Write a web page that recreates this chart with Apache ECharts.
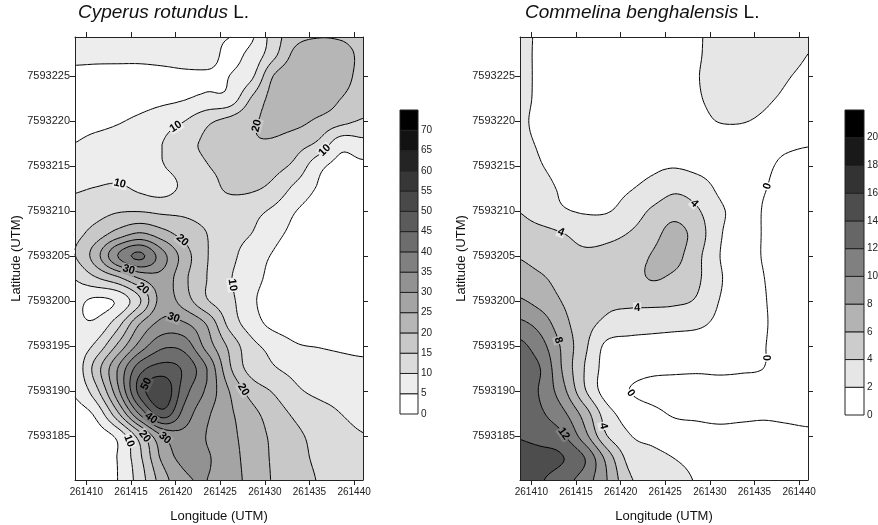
<!DOCTYPE html>
<html>
<head>
<meta charset="utf-8">
<script src="https://cdn.jsdelivr.net/npm/echarts@6/dist/echarts.min.js"></script>
<style>
  html, body { margin: 0; padding: 0; background: #fff; }
  #chart { width: 878px; height: 525px; }
</style>
</head>
<body>
<div id="chart"></div>
<script>
// -----------------------------
// DATA (kriged densities, 2.5 m node spacing)
// -----------------------------
const eastings = [261408.5, 261411, 261413.5, 261416, 261418.5, 261421, 261423.5,
  261426, 261428.5, 261431, 261433.5, 261436, 261438.5, 261441];
const northings = [7593230, 7593227.5, 7593225, 7593222.5, 7593220, 7593217.5, 7593215,
  7593212.5, 7593210, 7593207.5, 7593205, 7593202.5, 7593200, 7593197.5, 7593195,
  7593192.5, 7593190, 7593187.5, 7593185, 7593182.5, 7593180];

// rows follow northings (north first), columns follow eastings
const cyperusDensity = [
  [7, 7, 7, 6.8, 6.5, 6.2, 5.8, 5.3, 4, 12.5, 17.5, 19, 18.5, 17],
  [6, 5.8, 5.8, 5.8, 6, 6.3, 6.5, 4.2, 6.2, 13.5, 21.5, 23, 22.5, 18.5],
  [4, 4, 4, 4, 4.2, 4.5, 4.6, 5, 9, 20.3, 23.5, 24, 22.5, 18],
  [2.5, 2.5, 3, 3.3, 4, 4.8, 6, 6.8, 15.5, 22, 24.5, 23.5, 20, 17],
  [3, 3.5, 4.6, 6, 8, 10, 14, 16.5, 19.2, 21.5, 21.5, 19, 16.5, 14.5],
  [5, 6.5, 7.5, 8.5, 10, 13.5, 15.8, 17.5, 19.5, 19.3, 17, 14, 7, 8.4],
  [7, 7.5, 8, 8.8, 9.8, 12, 14.8, 16, 17.5, 16.5, 13.5, 6.5, 3.5, 4],
  [9.5, 10.2, 10.8, 9.3, 8.5, 11, 13.5, 15.5, 15.6, 13.5, 8.5, 4.5, 2.5, 3],
  [11.5, 13, 14.6, 14.8, 14, 14, 13.5, 13, 11.5, 9, 5, 3, 2, 2.5],
  [13.5, 17, 22, 25.5, 22, 18, 15, 12, 10, 6.5, 3.5, 1.8, 1.5, 2],
  [14.5, 22.5, 35, 41, 32, 22.5, 15.3, 11.5, 7.5, 4.5, 2, 1.2, 1, 1.5],
  [10, 14.2, 18.5, 25, 28, 21, 15, 10.5, 6.8, 3.5, 1.5, 1, 0.8, 1.2],
  [6.8, 4, 5.8, 14.5, 27, 22.5, 15.5, 11.5, 6, 2.5, 1.2, 1, 1, 1.5],
  [6, 5.8, 13, 25, 31.5, 30.5, 24.5, 13.5, 7.5, 3.5, 2, 1.5, 1.5, 2],
  [6.5, 11, 21, 32, 39, 38, 28, 19, 11.5, 8.5, 5.5, 4.8, 4.3, 4],
  [6, 17, 30, 43, 47, 44, 35, 21, 13, 10.4, 8.5, 7.3, 6.5, 6],
  [5.2, 13, 28.5, 47, 54, 42, 34, 25, 18, 14.5, 10.8, 9, 8.3, 7.3],
  [3, 6, 19, 36, 48, 38, 31, 26, 21.5, 17.5, 14, 11.8, 10, 8.8],
  [2, 2.5, 6.2, 17.5, 30, 33.5, 29.8, 26.5, 22.5, 19, 16, 13.5, 11.5, 10.2],
  [1.5, 2, 5.2, 14, 26, 31.5, 30.5, 27, 23, 19.3, 16.5, 14.2, 12.8, 11.5],
  [1.5, 2, 5, 12.5, 22.5, 29, 30, 27, 23.5, 19.5, 17, 14.8, 13.5, 12.5]
];

const commelinaDensity = [
  [2.6, 1.7, 1.3, 1.2, 1.1, 1.1, 1.2, 1.5, 1.8, 2.6, 3.2, 3.3, 3.0, 2.3],
  [2.7, 1.6, 1.2, 1.0, 1.0, 1.0, 1.1, 1.4, 1.8, 2.7, 3.3, 3.4, 3.0, 2.0],
  [2.7, 1.6, 1.1, 1.0, 1.0, 1.0, 1.0, 1.3, 1.9, 2.7, 3.1, 3.0, 2.2, 1.5],
  [2.6, 1.6, 1.0, 0.9, 0.9, 0.9, 0.9, 1.2, 1.8, 2.5, 2.6, 2.3, 1.7, 1.2],
  [2.4, 1.5, 1.0, 0.9, 0.9, 0.9, 1.0, 1.2, 1.5, 2.05, 2.1, 1.7, 1.2, 0.9],
  [2.5, 1.8, 1.2, 1.0, 1.0, 1.1, 1.3, 1.4, 1.4, 1.1, 0.9, 0.6, 0.3, 0.1],
  [3.0, 2.1, 1.5, 1.3, 1.3, 1.5, 1.7, 1.9, 1.6, 1.2, 0.7, 0.3, -0.3, -0.5],
  [3.3, 2.6, 1.8, 1.6, 1.6, 1.9, 2.6, 3.6, 3.0, 1.7, 0.6, 0.1, -0.6, -0.8],
  [4.0, 3.0, 2.2, 1.85, 1.9, 2.8, 4.3, 5.3, 4.3, 2.4, 1.2, -0.1, -0.8, -1.0],
  [5.0, 4.6, 4.05, 3.4, 3.5, 4.1, 5.3, 6.6, 5.2, 2.3, 1.0, -0.1, -1.0, -1.2],
  [5.9, 5.2, 4.6, 4.3, 4.5, 5.0, 6.1, 6.6, 4.6, 2.1, 0.8, -0.1, -1.1, -1.3],
  [7.0, 6.3, 5.3, 4.8, 4.9, 5.2, 6.1, 5.6, 4.4, 2.3, 0.8, 0.05, -1.0, -1.3],
  [8.3, 7.3, 5.9, 4.7, 4.3, 4.3, 4.4, 4.3, 3.8, 2.0, 0.9, 0.15, -0.9, -1.2],
  [10.5, 9.2, 6.7, 4.7, 3.6, 3.2, 3.0, 2.8, 2.5, 1.5, 0.7, 0.2, -0.9, -1.3],
  [12.6, 10.8, 7.6, 4.4, 1.5, 1.1, 0.9, 0.7, 0.6, 0.5, 0.4, 0.1, -1.0, -1.3],
  [13.0, 12.0, 7.8, 3.9, 1.2, 0.7, 0.4, 0.3, 0.2, 0.2, 0.15, 0.0, -1.0, -1.3],
  [13.2, 11.8, 8.7, 4.2, 1.0, 0.0, -0.6, -0.8, -0.7, -0.5, -0.6, -0.9, -1.2, -1.3],
  [13.5, 12.3, 10.5, 7.0, 2.8, 1.2, 0.5, -0.2, -0.3, -0.4, -0.3, -0.2, -0.3, -0.4],
  [13.9, 13.2, 12.3, 8.7, 4.0, 2.1, 1.5, 1.0, 0.7, 0.5, 0.5, 0.4, 0.3, 0.2],
  [15.0, 14.8, 14.1, 12.0, 7.3, 3.3, 2.6, 2.0, 1.5, 1.0, 0.8, 0.6, 0.5, 0.4],
  [15.2, 14.2, 12.8, 11.0, 8.0, 4.3, 3.4, 2.6, 1.9, 1.4, 1.1, 0.9, 0.8, 0.7]
];

const cyperusLevels = [0, 5, 10, 15, 20, 25, 30, 35, 40, 45, 50, 55, 60, 65, 70];
const commelinaLevels = [0, 2, 4, 6, 8, 10, 12, 14, 16, 18, 20];

// contour labels: [easting, northing, text]
const cyperusLabels = [
  [261419.9, 7593219.6, '10'], [261430.4, 7593219.9, '20'], [261436.4, 7593217.1, '10'],
  [261413.7, 7593212.9, '10'], [261420.4, 7593206.4, '20'], [261414.6, 7593203.1, '30'],
  [261415.1, 7593200.4, '20'], [261420.1, 7593198.7, '30'], [261426.4, 7593201.8, '10'],
  [261416.5, 7593190.9, '50'], [261427.5, 7593190.1, '20'], [261417.1, 7593186.8, '40'],
  [261415.1, 7593184.6, '10'], [261416.3, 7593184.8, '20'], [261418.8, 7593184.8, '30']
];
const commelinaLabels = [
  [261436.7, 7593212.7, '0'], [261428.1, 7593210.7, '4'], [261413.4, 7593207.9, '4'],
  [261421.9, 7593198.7, '4'], [261413.2, 7593195.7, '8'], [261421.2, 7593189.8, '0'],
  [261436.4, 7593193.7, '0'], [261418.4, 7593186.2, '4'], [261413.7, 7593185.3, '12']
];

const lonTicks = [261410, 261415, 261420, 261425, 261430, 261435, 261440];
const latTicks = [7593185, 7593190, 7593195, 7593200, 7593205, 7593210, 7593215, 7593220, 7593225];

const lonMin = 261408.72, lonMax = 261441.0;
const latMin = 7593180.1, latMax = 7593229.37;

// -----------------------------
// FIELD HELPERS
// -----------------------------
function catmull(p0, p1, p2, p3, t) {
  return 0.5 * (2 * p1 + (p2 - p0) * t + (2 * p0 - 5 * p1 + 4 * p2 - p3) * t * t
    + (3 * p1 - p0 - 3 * p2 + p3) * t * t * t);
}

// smooth surface through the nodes, kept inside each cell's node range
function makeField(values) {
  const dx = eastings[1] - eastings[0];
  const dy = northings[0] - northings[1];
  const nc = eastings.length, nr = northings.length;
  const at = (r, c) => values[Math.min(Math.max(r, 0), nr - 1)][Math.min(Math.max(c, 0), nc - 1)];
  return (x, y) => {
    const fx = (x - eastings[0]) / dx;
    const fy = (northings[0] - y) / dy;
    const i = Math.min(Math.max(Math.floor(fx), 0), nc - 2);
    const j = Math.min(Math.max(Math.floor(fy), 0), nr - 2);
    const tx = fx - i, ty = fy - j;
    const rows = [];
    for (let r = j - 1; r <= j + 2; r++) {
      rows.push(catmull(at(r, i - 1), at(r, i), at(r, i + 1), at(r, i + 2), tx));
    }
    const v = catmull(rows[0], rows[1], rows[2], rows[3], ty);
    const a = at(j, i), b = at(j, i + 1), c = at(j + 1, i), d = at(j + 1, i + 1);
    return Math.min(Math.max(v, Math.min(a, b, c, d)), Math.max(a, b, c, d));
  };
}

function clipAbove(poly, L) {
  const out = [];
  for (let k = 0; k < poly.length; k++) {
    const P = poly[k], Q = poly[(k + 1) % poly.length];
    const pin = P[2] >= L, qin = Q[2] >= L;
    if (pin) out.push(P);
    if (pin !== qin) {
      const t = (L - P[2]) / (Q[2] - P[2]);
      out.push([P[0] + t * (Q[0] - P[0]), P[1] + t * (Q[1] - P[1]), L]);
    }
  }
  return out;
}

function isoSegment(tri, L) {
  const pts = [];
  for (let k = 0; k < 3; k++) {
    const P = tri[k], Q = tri[(k + 1) % 3];
    if ((P[2] >= L) !== (Q[2] >= L)) {
      const t = (L - P[2]) / (Q[2] - P[2]);
      pts.push([P[0] + t * (Q[0] - P[0]), P[1] + t * (Q[1] - P[1])]);
    }
  }
  return pts.length === 2 ? pts : null;
}

// region v >= level for every level, plus isoline segments
function buildContours(values, levels) {
  const field = makeField(values);
  const NX = 96, NY = 148;
  const xs = [], ys = [];
  for (let i = 0; i <= NX; i++) xs.push(lonMin + (lonMax - lonMin) * i / NX);
  for (let j = 0; j <= NY; j++) ys.push(latMin + (latMax - latMin) * j / NY);
  const S = ys.map(y => xs.map(x => field(x, y)));
  const fills = levels.map(() => []);
  const lines = [];
  for (let j = 0; j < NY; j++) {
    for (let i = 0; i < NX; i++) {
      const a = [xs[i], ys[j], S[j][i]], b = [xs[i + 1], ys[j], S[j][i + 1]];
      const c = [xs[i + 1], ys[j + 1], S[j + 1][i + 1]], d = [xs[i], ys[j + 1], S[j + 1][i]];
      const lo = Math.min(a[2], b[2], c[2], d[2]);
      const hi = Math.max(a[2], b[2], c[2], d[2]);
      const tris = ((i + j) % 2) ? [[a, b, c], [a, c, d]] : [[a, b, d], [b, c, d]];
      levels.forEach((L, k) => {
        if (hi < L) return;
        if (lo >= L) { if (k > 0) fills[k].push([a, b, c, d]); return; }
        tris.forEach(t => {
          if (k > 0) {
            const p = clipAbove(t, L);
            if (p.length >= 3) fills[k].push(p);
          }
          const s = isoSegment(t, L);
          if (s) lines.push(s);
        });
      });
    }
  }
  return { field, fills, lines };
}

function grayOf(k, n) {
  const g = Math.round(255 * (1 - k / (n - 1)));
  return `rgb(${g},${g},${g})`;
}

function bandIndex(v, levels) {
  let k = 0;
  levels.forEach((L, i) => { if (v >= L) k = i; });
  return k;
}

// -----------------------------
// SERIES BUILDERS
// -----------------------------
function mapSeries(values, levels, labels, axisIdx) {
  const geo = buildContours(values, levels);
  const n = levels.length;
  const toPath = (polys, api) => {
    let d = '';
    polys.forEach(poly => {
      poly.forEach((p, m) => {
        const q = api.coord([p[0], p[1]]);
        d += (m ? 'L' : 'M') + q[0].toFixed(2) + ' ' + q[1].toFixed(2);
      });
      d += 'Z';
    });
    return d;
  };
  const base = { type: 'custom', xAxisIndex: axisIdx.x, yAxisIndex: axisIdx.y, silent: true };

  const fillSeries = Object.assign({}, base, {
    z: 1,
    data: levels.map((L, k) => [lonMin, latMin, k]).slice(1),
    renderItem: (params, api) => {
      const k = params.dataIndex + 1;
      if (!geo.fills[k].length) return null;
      return {
        type: 'path',
        shape: { pathData: toPath(geo.fills[k], api) },
        style: { fill: grayOf(k, n), stroke: null }
      };
    }
  });

  const lineSeries = Object.assign({}, base, {
    z: 2,
    data: [[lonMin, latMin, 0]],
    renderItem: (params, api) => {
      let d = '';
      geo.lines.forEach(s => {
        const p = api.coord(s[0]), q = api.coord(s[1]);
        d += 'M' + p[0].toFixed(2) + ' ' + p[1].toFixed(2) + 'L' + q[0].toFixed(2) + ' ' + q[1].toFixed(2);
      });
      return {
        type: 'path',
        shape: { pathData: d },
        style: { fill: null, stroke: '#000', lineWidth: 1 }
      };
    }
  });

  const labelSeries = Object.assign({}, base, {
    z: 3,
    data: labels.map(l => [l[0], l[1]]),
    renderItem: (params, api) => {
      const lab = labels[params.dataIndex];
      const L = Number(lab[2]);
      const f = geo.field, h = 0.05;
      let x = lab[0], y = lab[1];
      // slide the label onto its own isoline
      for (let it = 0; it < 8; it++) {
        const gx = (f(x + h, y) - f(x - h, y)) / (2 * h);
        const gy = (f(x, y + h) - f(x, y - h)) / (2 * h);
        const g2 = gx * gx + gy * gy;
        if (g2 < 1e-9) break;
        const r = f(x, y) - L;
        let sx = -r * gx / g2, sy = -r * gy / g2;
        const len = Math.hypot(sx, sy);
        if (len > 1.2) { sx *= 1.2 / len; sy *= 1.2 / len; }
        x += sx; y += sy;
      }
      const p = api.coord([x, y]);
      const px = api.coord([x + 1, y]), py = api.coord([x, y + 1]);
      const gx = (f(x + h, y) - f(x - h, y)) / (2 * h) / (px[0] - p[0]);
      const gy = (f(x, y + h) - f(x, y - h)) / (2 * h) / (py[1] - p[1]);
      let ang = Math.atan2(-gx, -gy);
      if (ang > Math.PI / 2) ang -= Math.PI;
      if (ang <= -Math.PI / 2) ang += Math.PI;
      const k = Math.max(0, bandIndex(L, levels) - 1);
      return {
        type: 'text',
        x: p[0], y: p[1], rotation: ang,
        style: {
          text: lab[2],
          font: 'bold 11px Arial, "Liberation Sans", sans-serif',
          fill: '#000',
          align: 'center', verticalAlign: 'middle',
          backgroundColor: grayOf(L === 0 ? 0 : k, n),
          padding: [0, 1]
        }
      };
    }
  });

  return [fillSeries, lineSeries, labelSeries];
}

function colorbarSeries(levels, axisIdx) {
  const n = levels.length;
  const step = levels[1] - levels[0];
  return {
    type: 'custom', xAxisIndex: axisIdx, yAxisIndex: axisIdx, silent: true, z: 2,
    data: levels.map((L, k) => [0, L, k]),
    renderItem: (params, api) => {
      const k = params.dataIndex;
      const lo = api.coord([0, levels[k]]), hi = api.coord([1, levels[k] + step]);
      return {
        type: 'rect',
        shape: { x: lo[0], y: hi[1], width: hi[0] - lo[0], height: lo[1] - hi[1] },
        style: { fill: grayOf(k, n), stroke: '#222', lineWidth: 1 }
      };
    }
  };
}

// -----------------------------
// AXES
// -----------------------------
const FONT = 'Arial, "Liberation Sans", sans-serif';

function lonAxis(grid, top) {
  return {
    type: 'value', gridIndex: grid, position: top ? 'top' : 'bottom',
    min: lonMin, max: lonMax, z: 10,
    name: top ? '' : 'Longitude (UTM)', nameLocation: 'middle', nameGap: 30,
    nameTextStyle: { fontSize: 13, color: '#111', fontFamily: FONT },
    axisLine: { show: true, onZero: false, lineStyle: { color: '#222', width: 1 } },
    axisTick: { show: true, length: 5, customValues: lonTicks, lineStyle: { color: '#222' } },
    axisLabel: {
      show: !top, customValues: lonTicks, formatter: v => String(v),
      fontSize: 10, color: '#222', margin: 7, fontFamily: FONT
    },
    splitLine: { show: false }
  };
}

function latAxis(grid, right) {
  return {
    type: 'value', gridIndex: grid, position: right ? 'right' : 'left',
    min: latMin, max: latMax, z: 10,
    name: right ? '' : 'Latitude (UTM)', nameLocation: 'middle', nameGap: 52, nameRotate: 90,
    nameTextStyle: { fontSize: 13, color: '#111', fontFamily: FONT },
    axisLine: { show: true, onZero: false, lineStyle: { color: '#222', width: 1 } },
    axisTick: { show: true, length: 5, customValues: latTicks, lineStyle: { color: '#222' } },
    axisLabel: {
      show: !right, customValues: latTicks, formatter: v => String(v),
      fontSize: 11, color: '#222', margin: 5, fontFamily: FONT
    },
    splitLine: { show: false }
  };
}

function barXAxis(grid) {
  return { type: 'value', gridIndex: grid, min: 0, max: 1, show: false };
}

function barYAxis(grid, levels) {
  const step = levels[1] - levels[0];
  return {
    type: 'value', gridIndex: grid, position: 'right',
    min: 0, max: levels[levels.length - 1] + step,
    axisLine: { show: false }, axisTick: { show: false }, splitLine: { show: false },
    axisLabel: {
      customValues: levels, formatter: v => String(v),
      fontSize: 10, color: '#222', margin: 3, fontFamily: FONT
    }
  };
}

function titleOf(species, left) {
  return {
    text: '{i|' + species + '} L.', left: left, top: 3, padding: 0,
    textStyle: {
      fontSize: 19, fontWeight: 'normal', color: '#111', fontFamily: FONT,
      rich: { i: { fontSize: 19, fontStyle: 'italic', color: '#111', fontFamily: FONT } }
    }
  };
}

// -----------------------------
// CHART
// -----------------------------
const chart = echarts.init(document.getElementById('chart'), null, { renderer: 'canvas' });

chart.setOption({
  animation: false,
  backgroundColor: '#fff',
  title: [titleOf('Cyperus rotundus', 78), titleOf('Commelina benghalensis', 525)],
  grid: [
    { left: 75, top: 37, width: 288, height: 443, containLabel: false, outerBoundsMode: 'none' },
    { left: 520, top: 37, width: 288, height: 443, containLabel: false, outerBoundsMode: 'none' },
    { left: 400, top: 110, width: 18, height: 304, containLabel: false, outerBoundsMode: 'none' },
    { left: 845, top: 110, width: 19, height: 305, containLabel: false, outerBoundsMode: 'none' }
  ],
  xAxis: [lonAxis(0, false), lonAxis(0, true), lonAxis(1, false), lonAxis(1, true), barXAxis(2), barXAxis(3)],
  yAxis: [latAxis(0, false), latAxis(0, true), latAxis(1, false), latAxis(1, true),
    barYAxis(2, cyperusLevels), barYAxis(3, commelinaLevels)],
  series: [
    ...mapSeries(cyperusDensity, cyperusLevels, cyperusLabels, { x: 0, y: 0 }),
    ...mapSeries(commelinaDensity, commelinaLevels, commelinaLabels, { x: 2, y: 2 }),
    colorbarSeries(cyperusLevels, 4),
    colorbarSeries(commelinaLevels, 5)
  ]
});
</script>
</body>
</html>
